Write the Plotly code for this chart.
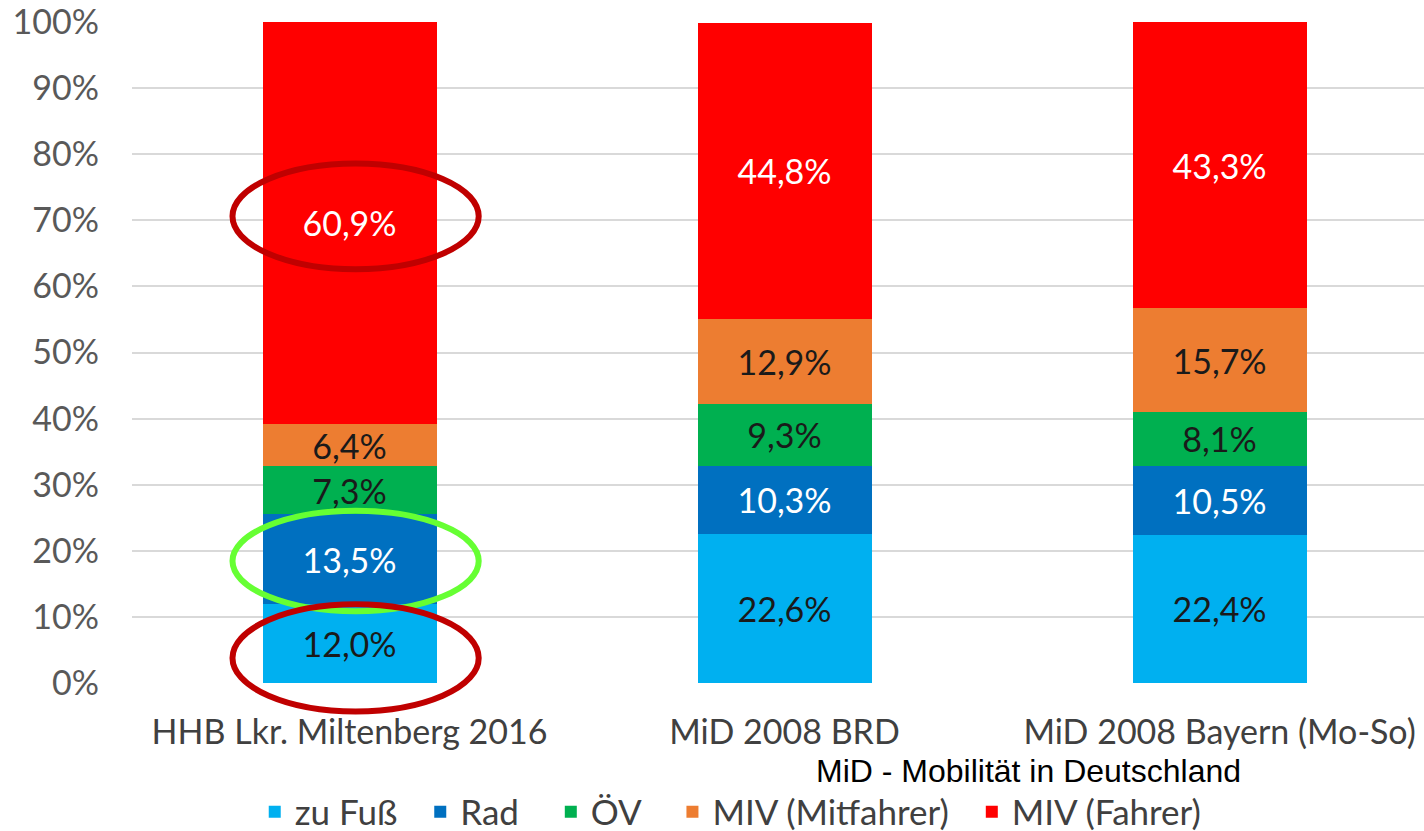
import plotly.graph_objects as go

categories = ["HHB Lkr. Miltenberg 2016", "MiD 2008 BRD", "MiD 2008 Bayern (Mo-So)"]
series_names = ["zu Fuß", "Rad", "ÖV", "MIV (Mitfahrer)", "MIV (Fahrer)"]
zu_fuss = [12.0, 22.6, 22.4]
rad = [13.5, 10.3, 10.5]
oev = [7.3, 9.3, 8.1]
miv_mitfahrer = [6.4, 12.9, 15.7]
miv_fahrer = [60.9, 44.8, 43.3]
y_ticks = [0, 10, 20, 30, 40, 50, 60, 70, 80, 90, 100]

series_values = [zu_fuss, rad, oev, miv_mitfahrer, miv_fahrer]
colors = ["#00B0F0", "#0070C0", "#00B050", "#ED7D31", "#FF0000"]
label_colors = ["#1a1a1a", "#FFFFFF", "#1a1a1a", "#1a1a1a", "#FFFFFF"]
legend_pads = [2, 3, 3, 2, 0]  # non-breaking spaces after each legend entry

FONT = "Lato, Carlito, sans-serif"
X_RANGE = [-0.5, 2.47]
Y_RANGE = [0, 100]

fig = go.Figure()
for name, vals, col, lcol, pad in zip(series_names, series_values, colors, label_colors, legend_pads):
    fig.add_trace(go.Bar(
        name=name + "\u00a0" * pad, x=categories, y=vals,
        marker=dict(color=col, line=dict(width=0)),
        text=[f"{v:.1f}%".replace(".", ",") for v in vals],
        textposition="inside", insidetextanchor="middle",
        textfont=dict(family=FONT, size=34, color=lcol),
        hoverinfo="skip",
    ))

# highlight ellipses around selected segments of the first bar (paper refs so they are not clipped)
def seg_mid(idx, cat):
    return sum(s[cat] for s in series_values[:idx]) + series_values[idx][cat] / 2

def px_(xv):
    return (xv - X_RANGE[0]) / (X_RANGE[1] - X_RANGE[0])

def py_(yv):
    return (yv - Y_RANGE[0]) / (Y_RANGE[1] - Y_RANGE[0])

ellipses = [
    (4, "#C00000", 0.95, 8.0),
    (1, "#66FF33", -0.3, 7.6),
    (0, "#C00000", -2.2, 8.1),
]
for idx, col, off, half in ellipses:
    yc = seg_mid(idx, 0) + off
    fig.add_shape(type="circle", xref="paper", yref="paper",
                  x0=px_(-0.269), x1=px_(0.297), y0=py_(yc - half), y1=py_(yc + half),
                  line=dict(color=col, width=6), layer="above")

fig.add_annotation(text="MiD - Mobilität in Deutschland", xref="paper", yref="paper",
                   x=0.694, y=-0.133, showarrow=False, xanchor="center", yanchor="middle",
                   font=dict(family="Liberation Sans, Arial", size=32, color="#000000"))

W, H = 1424, 831
ml, mt, mb = 132, 22, 148
fig.update_layout(
    width=W, height=H, barmode="stack", bargap=0.6,
    margin=dict(l=ml, r=0, t=mt, b=mb, pad=0, autoexpand=False),
    plot_bgcolor="white", paper_bgcolor="white",
    uniformtext=dict(minsize=34, mode="show"),
    showlegend=True,
    legend=dict(orientation="h", x=0.095, xanchor="left", y=-0.195, yanchor="middle",
                font=dict(family=FONT, size=35, color="#404040"),
                itemwidth=30, traceorder="normal"),
    xaxis=dict(type="category", range=X_RANGE, showgrid=False, zeroline=False,
               showline=False, ticks="", ticklabelstandoff=26, automargin=False,
               ticklabeloverflow="allow",
               tickfont=dict(family=FONT, size=34, color="#404040")),
    yaxis=dict(range=Y_RANGE, tickvals=y_ticks, ticktext=[f"{t}%" for t in y_ticks],
               showgrid=True, gridcolor="#D9D9D9", gridwidth=2, zeroline=False,
               showline=False, ticks="", ticklabelstandoff=32, automargin=False,
               ticklabeloverflow="allow",
               tickfont=dict(family=FONT, size=34, color="#595959")),
)

fig.write_html("out.html", config={"displayModeBar": False},
               post_script="document.body.style.margin='0';document.body.style.overflow='hidden';")
